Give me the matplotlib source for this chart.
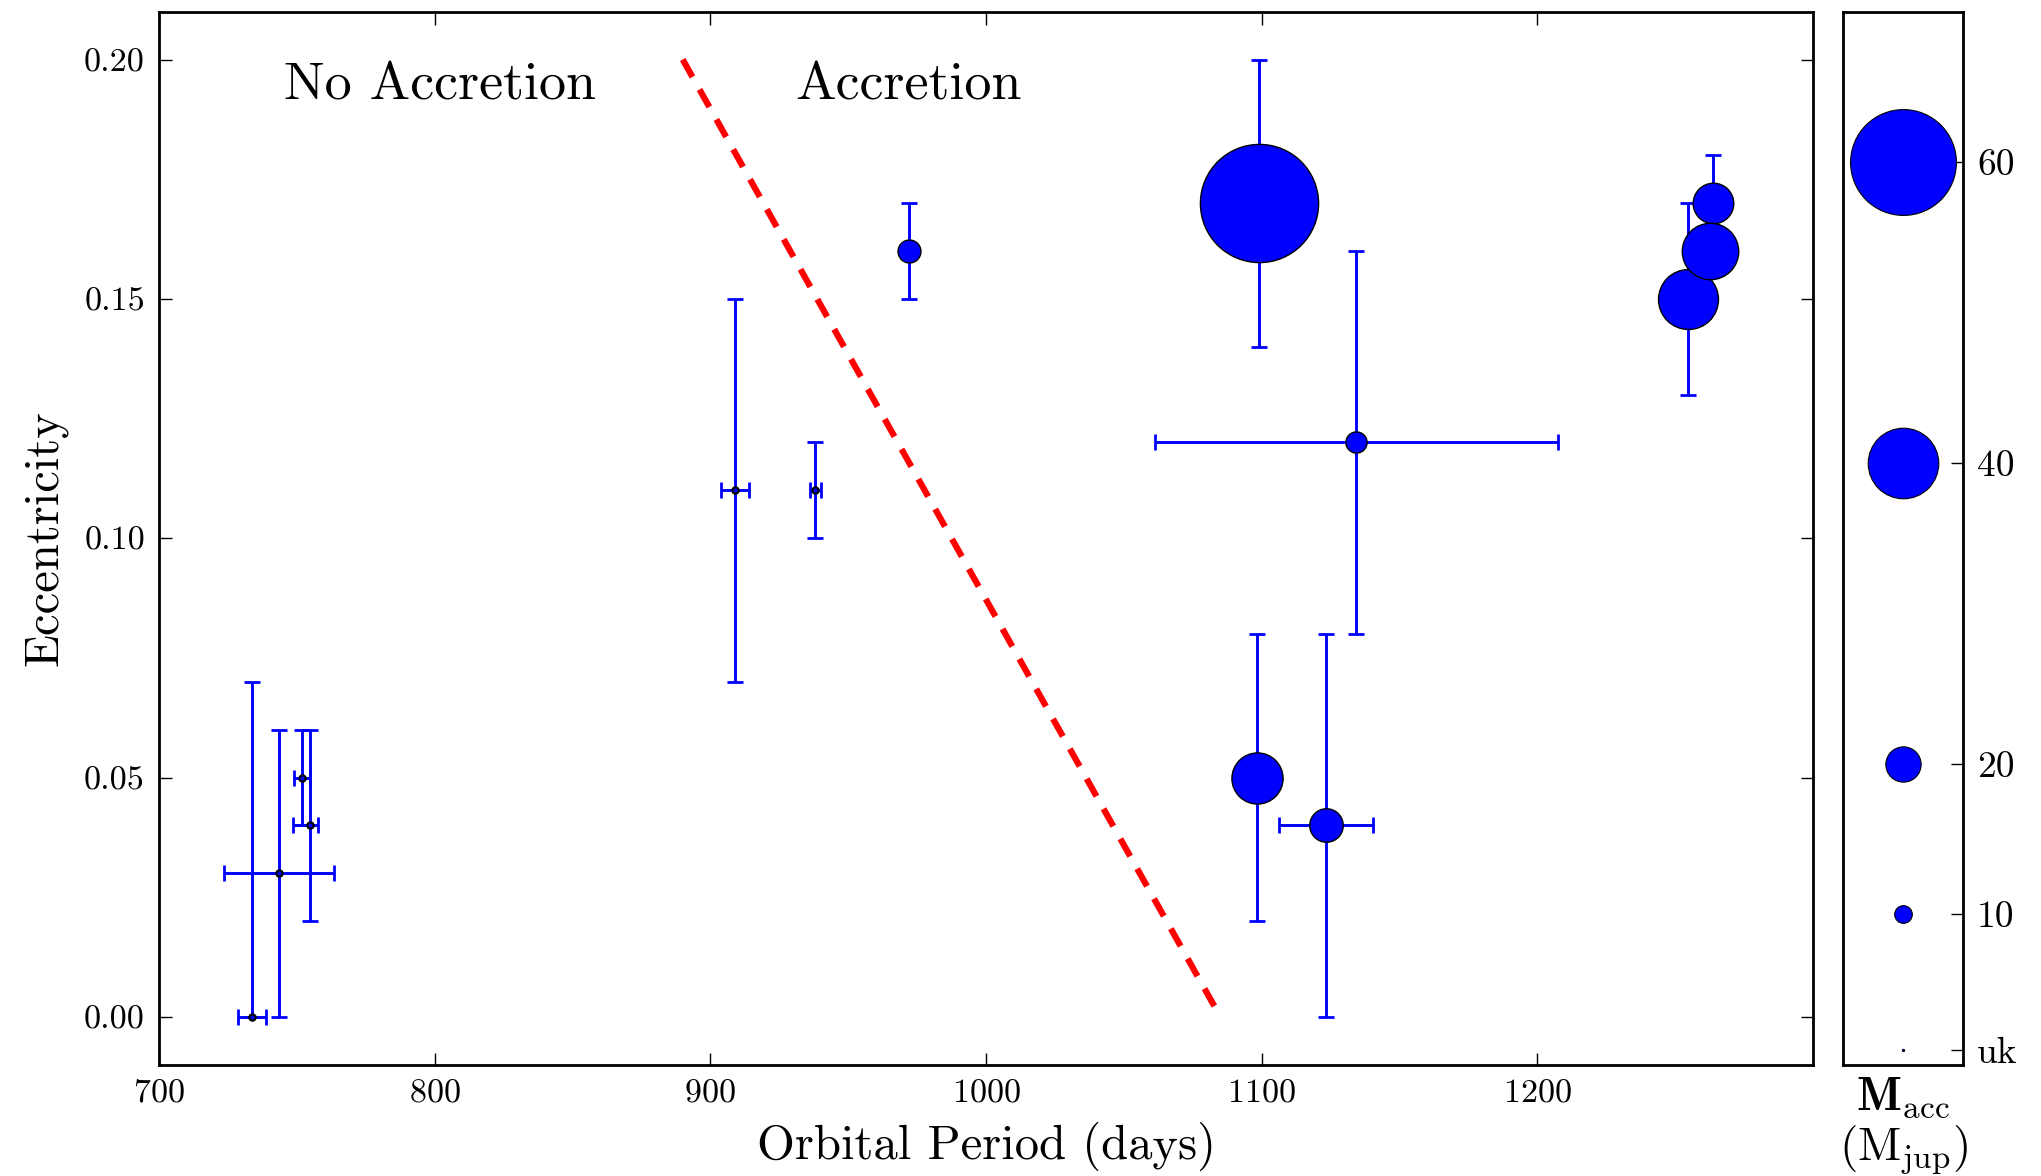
import matplotlib
matplotlib.use("Agg")
import matplotlib.pyplot as plt
import numpy as np

plt.rcParams['font.family'] = 'cmr10'
plt.rcParams['mathtext.fontset'] = 'cm'
plt.rcParams['axes.formatter.use_mathtext'] = True

# orbital period (days), eccentricity, errors, accreted mass (Mjup, None = unknown)
period = [733.8, 743.7, 752.0, 754.8, 909.0, 938.0, 972.0, 1099.0, 1134.3,
          1098.2, 1123.3, 1254.5, 1263.6, 1262.5]
ecc = [0.00, 0.03, 0.05, 0.04, 0.11, 0.11, 0.16, 0.17, 0.12,
       0.05, 0.04, 0.15, 0.17, 0.16]
period_err_lo = [5, 20, 3, 6, 5, 2, 0, 0, 73, 0, 17, 0, 0, 0]
period_err_hi = [5, 20, 3, 3, 5, 2, 0, 0, 73, 0, 17, 0, 0, 0]
ecc_err_lo = [0.00, 0.03, 0.01, 0.02, 0.04, 0.01, 0.01, 0.03, 0.04,
              0.03, 0.04, 0.02, 0.01, 0.01]
ecc_err_hi = [0.07, 0.03, 0.01, 0.02, 0.04, 0.01, 0.01, 0.03, 0.04,
              0.03, 0.04, 0.02, 0.01, 0.01]
m_acc = [None, None, None, None, None, None, 13, 67, 12, 29, 19, 34, 23, 32]

# accretion boundary
bound_p = [890, 1085]
bound_e = [0.20, 0.00]

# size key
key_mass = [60, 40, 20, 10, None]
key_labels = ['60', '40', '20', '10', 'uk']
key_pos = [60, 40, 20, 10, 1]


def msize(m, uk=4.5):
    return uk if m is None else 1.27 * m


fig = plt.figure(figsize=(20.41, 11.76), dpi=100)
ax = fig.add_axes([0.0778, 0.0946, 0.8106, 0.8955])
kax = fig.add_axes([0.9031, 0.0946, 0.0588, 0.8955])

ax.plot(bound_p, bound_e, color='red', lw=4.5, ls=(0, (3.2, 2.3)), zorder=1)

ax.errorbar(period, ecc, xerr=[period_err_lo, period_err_hi],
            yerr=[ecc_err_lo, ecc_err_hi], fmt='none', ecolor='blue',
            elinewidth=2.1, capsize=6, capthick=2.0, zorder=2)
for p, e, m in zip(period, ecc, m_acc):
    ax.plot(p, e, 'o', ms=msize(m), mfc='blue', mec='black',
            mew=1.0 if m else 1.6, zorder=3)

ax.text(802, 0.1945, 'No Accretion', fontsize=39, ha='center', va='center')
ax.text(972, 0.1945, 'Accretion', fontsize=39, ha='center', va='center')

ax.set_xlim(700, 1300)
ax.set_ylim(-0.01, 0.21)
ax.set_xticks([700, 800, 900, 1000, 1100, 1200])
ax.set_yticks([0.00, 0.05, 0.10, 0.15, 0.20])
ax.set_yticklabels(['0.00', '0.05', '0.10', '0.15', '0.20'])
ax.tick_params(direction='in', top=True, right=True, length=9, width=1,
               labelsize=24.5, pad=10)
ax.set_xlabel('Orbital Period (days)', fontsize=35, labelpad=10)
ax.set_ylabel('Eccentricity', fontsize=35, labelpad=12)
for s in ax.spines.values():
    s.set_linewidth(2)

for y, m in zip(key_pos, key_mass):
    kax.plot(0.5, y, 'o', ms=msize(m, uk=1.6), mfc='blue', mec='black', mew=0.8)
kax.set_xlim(0, 1)
kax.set_ylim(0, 70)
kax.set_xticks([])
kax.yaxis.tick_right()
kax.set_yticks(key_pos)
kax.set_yticklabels(key_labels)
kax.tick_params(axis='y', direction='in', length=9, width=1, labelsize=27, pad=10)
kax.set_xlabel('$\\mathbf{M}_{\\rm acc}$\n$(\\rm M_{jup})$', fontsize=34,
               labelpad=8, linespacing=1.1)
for s in kax.spines.values():
    s.set_linewidth(2)

fig.savefig('out.png', dpi=100)
